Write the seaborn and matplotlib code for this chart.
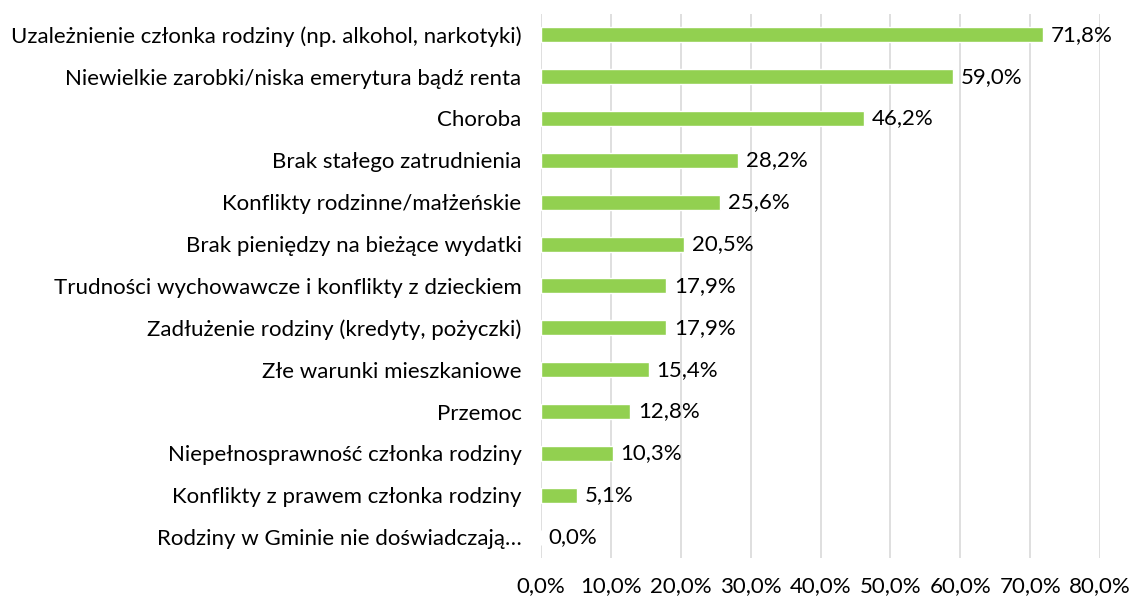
import matplotlib
matplotlib.use("Agg")
import matplotlib.pyplot as plt
import seaborn as sns
import pandas as pd
from matplotlib.ticker import FuncFormatter

categories = [
    "Uzależnienie członka rodziny (np. alkohol, narkotyki)",
    "Niewielkie zarobki/niska emerytura bądź renta",
    "Choroba",
    "Brak stałego zatrudnienia",
    "Konflikty rodzinne/małżeńskie",
    "Brak pieniędzy na bieżące wydatki",
    "Trudności wychowawcze i konflikty z dzieckiem",
    "Zadłużenie rodziny (kredyty, pożyczki)",
    "Złe warunki mieszkaniowe",
    "Przemoc",
    "Niepełnosprawność członka rodziny",
    "Konflikty z prawem członka rodziny",
    "Rodziny w Gminie nie doświadczają…",
]
values = [71.8, 59.0, 46.2, 28.2, 25.6, 20.5, 17.9, 17.9, 15.4, 12.8, 10.3, 5.1, 0.0]
x_ticks = [0, 10, 20, 30, 40, 50, 60, 70, 80]

sns.set_theme(style="white")
plt.rcParams['font.family'] = ['Lato', 'DejaVu Sans']

df = pd.DataFrame({"cat": categories, "val": values})

fig = plt.figure(figsize=(11.33, 6.01), dpi=100)
ax = fig.add_axes([0.4775, 0.0715, 0.4935, 0.9055])

sns.barplot(data=df, x="val", y="cat", orient="h", color="#92D050",
            saturation=1, width=0.36, ax=ax)

FS = 16
ax.set_xlim(0, 80)
ax.set_ylim(12.5, -0.5)
ax.set_xticks(x_ticks)
ax.xaxis.set_major_formatter(FuncFormatter(lambda v, p: f"{v:.1f}%".replace(".", ",")))
ax.grid(axis="x", color="#D9D9D9", linewidth=1.2)
ax.set_axisbelow(True)
for s in ax.spines.values():
    s.set_visible(False)
ax.set_xlabel("")
ax.set_ylabel("")
ax.tick_params(axis="x", length=0, pad=13, labelsize=FS, colors="#000000")
ax.tick_params(axis="y", length=0, pad=14, labelsize=FS, colors="#000000")

for i, v in enumerate(values):
    ax.text(v + 1.1, i, f"{v:.1f}%".replace(".", ","), va="center", ha="left",
            fontsize=FS, color="#000000")

fig.savefig("out.png", dpi=100)
